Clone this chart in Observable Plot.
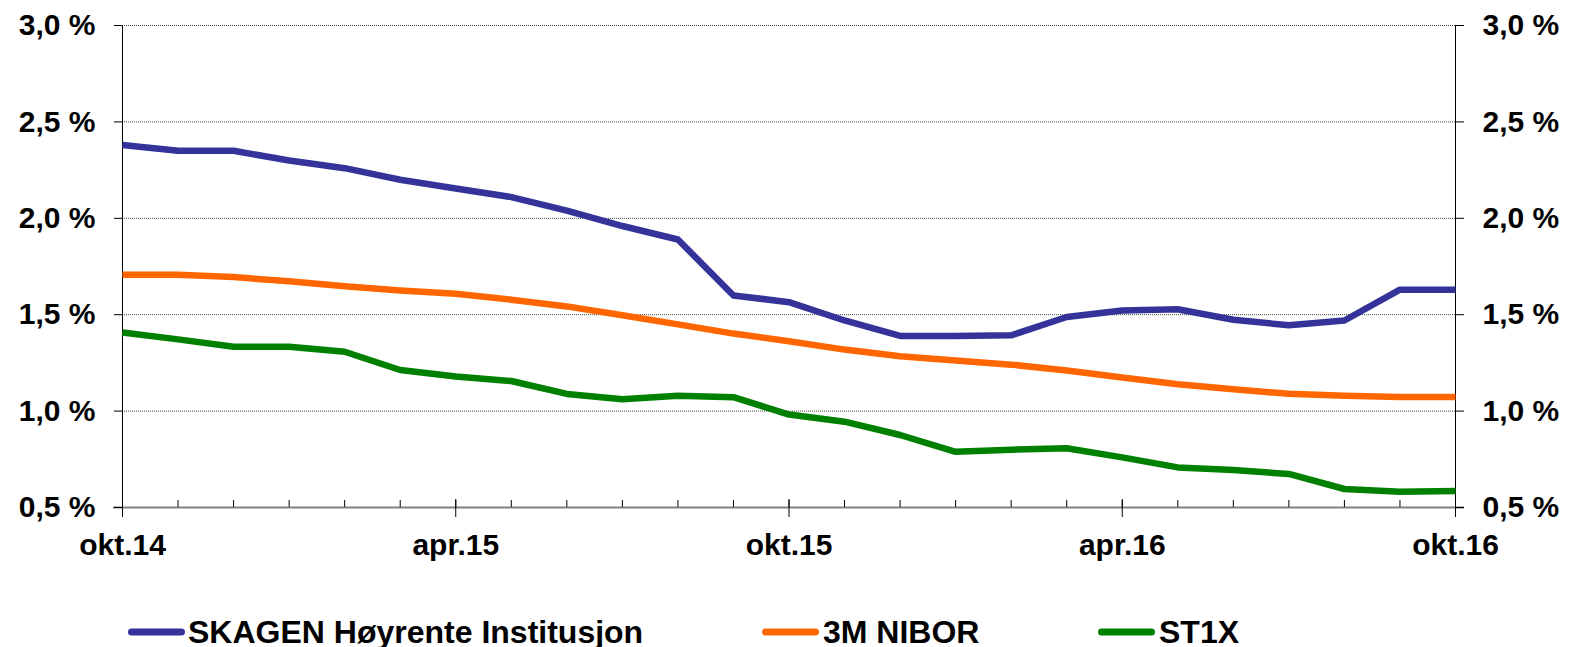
<!DOCTYPE html>
<html><head><meta charset="utf-8">
<script src="https://cdn.jsdelivr.net/npm/d3@7"></script>
<script src="https://cdn.jsdelivr.net/npm/@observablehq/plot@0.6"></script>
<style>
html,body{margin:0;padding:0;background:#fff;}
#chart{width:1572px;height:600px;}
#legend{position:relative;width:1572px;height:47px;font-family:"Liberation Sans",Arial,sans-serif;font-weight:bold;font-size:32px;color:#000;}
#legend .sw{position:absolute;top:26px;}
#legend .tx{position:absolute;top:16px;line-height:32px;white-space:nowrap;}
</style></head>
<body>
<div id="chart"></div>
<div id="legend"></div>
<script>
const months = ["okt.14","nov.14","des.14","jan.15","feb.15","mar.15","apr.15","mai.15","jun.15","jul.15","aug.15","sep.15","okt.15","nov.15","des.15","jan.16","feb.16","mar.16","apr.16","mai.16","jun.16","jul.16","aug.16","sep.16","okt.16"];
const xTickLabels = ["okt.14","apr.15","okt.15","apr.16","okt.16"];
const yTicks = [0.5, 1.0, 1.5, 2.0, 2.5, 3.0];
const seriesNames = ["SKAGEN Høyrente Institusjon", "3M NIBOR", "ST1X"];
const seriesColors = ["#333399", "#FF6600", "#008000"];
const skagen = [2.38,2.35,2.35,2.30,2.26,2.20,2.155,2.11,2.04,1.96,1.89,1.60,1.565,1.47,1.39,1.39,1.393,1.488,1.522,1.528,1.474,1.445,1.47,1.63,1.63];
const nibor  = [1.707,1.707,1.695,1.673,1.648,1.626,1.609,1.578,1.543,1.497,1.45,1.402,1.362,1.319,1.284,1.263,1.241,1.211,1.174,1.139,1.113,1.09,1.079,1.073,1.073];
const st1x   = [1.408,1.372,1.334,1.334,1.308,1.213,1.179,1.156,1.089,1.061,1.08,1.072,0.982,0.945,0.876,0.789,0.80,0.807,0.76,0.708,0.694,0.674,0.596,0.582,0.585];

const seriesValues = [skagen, nibor, st1x];
const data = [];
seriesValues.forEach((vals, s) => vals.forEach((v, i) => data.push({month: months[i], value: v, series: seriesNames[s]})));

const fmt = d => d.toFixed(1).replace(".", ",") + " %";

const chart = Plot.plot({
  width: 1572,
  height: 600,
  marginLeft: 122,
  marginRight: 117,
  marginTop: 25,
  marginBottom: 93,
  style: {fontFamily: '"Liberation Sans", Arial, sans-serif', fontWeight: "bold", fontSize: "30px", color: "#000", background: "#fff", overflow: "visible"},
  x: {type: "point", domain: months, padding: 0, round: false},
  y: {domain: [0.5, 3.0]},
  color: {domain: seriesNames, range: seriesColors},
  marks: [
    Plot.gridY(yTicks.slice(1), {stroke: "#000", strokeOpacity: 0.75, strokeDasharray: "1,1", strokeWidth: 1}),
    Plot.ruleY([yTicks[0]], {stroke: "#808080", strokeWidth: 2.2, insetLeft: -9, insetRight: -9}),
    Plot.ruleX([months[0], months[months.length - 1]], {x: d => d, y1: yTicks[0], y2: yTicks[yTicks.length - 1], stroke: "#000", strokeWidth: 1}),
    Plot.ruleX(months, {x: d => d, y1: yTicks[0], y2: yTicks[0], insetTop: -7, stroke: "#000", strokeWidth: 1}),
    Plot.ruleX(xTickLabels, {x: d => d, y1: yTicks[0], y2: yTicks[0], insetTop: -8, insetBottom: -10, stroke: "#000", strokeWidth: 1}),
    Plot.axisY(yTicks, {anchor: "left", tickSize: 8, tickPadding: 19, tickFormat: fmt, label: null, stroke: "#000"}),
    Plot.axisY(yTicks, {anchor: "right", tickSize: 8, tickPadding: 19, tickFormat: fmt, label: null, stroke: "#000"}),
    Plot.axisX(xTickLabels, {tickSize: 0, tickPadding: 26, label: null}),
    Plot.line(data, {x: "month", y: "value", z: "series", stroke: "series", strokeWidth: 6.5, strokeLinecap: "butt", strokeLinejoin: "round"})
  ]
});
document.getElementById("chart").appendChild(chart);

// legend below the SVG
const legend = document.getElementById("legend");
const swatchLeft = [128, 762, 1098];
const textLeft = [188, 823, 1159];
seriesNames.forEach((name, i) => {
  const ns = "http://www.w3.org/2000/svg";
  const svg = document.createElementNS(ns, "svg");
  svg.setAttribute("width", 58);
  svg.setAttribute("height", 12);
  svg.setAttribute("class", "sw");
  svg.style.left = swatchLeft[i] + "px";
  const ln = document.createElementNS(ns, "line");
  ln.setAttribute("x1", 3.5); ln.setAttribute("x2", 53.5);
  ln.setAttribute("y1", 6); ln.setAttribute("y2", 6);
  ln.setAttribute("stroke", seriesColors[i]);
  ln.setAttribute("stroke-width", 7);
  ln.setAttribute("stroke-linecap", "round");
  svg.appendChild(ln);
  legend.appendChild(svg);
  const t = document.createElement("span");
  t.className = "tx";
  t.style.left = textLeft[i] + "px";
  t.textContent = name;
  legend.appendChild(t);
});
</script>
</body></html>
